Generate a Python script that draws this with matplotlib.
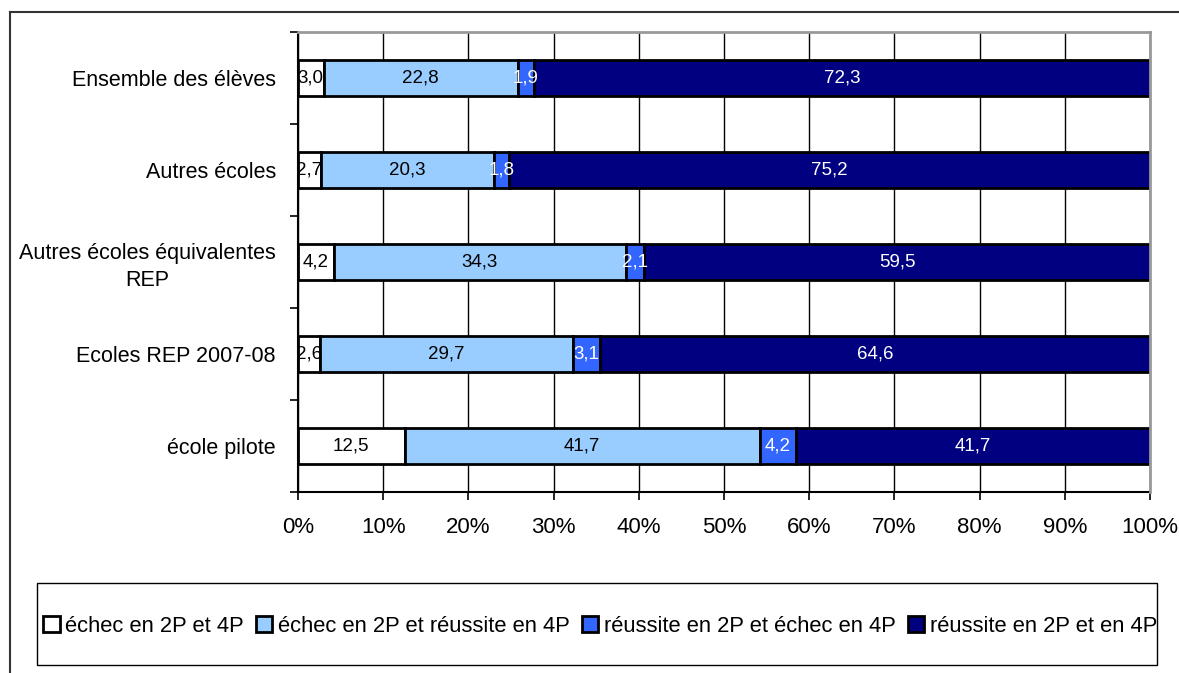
import matplotlib
matplotlib.use('Agg')
import matplotlib.pyplot as plt
from matplotlib.patches import Patch
from matplotlib.lines import Line2D
import numpy as np

plt.rcParams['font.family'] = ['Liberation Sans', 'DejaVu Sans']

# donnees
categories = ["Ensemble des élèves", "Autres écoles", "Autres écoles équivalentes\nREP",
              "Ecoles REP 2007-08", "école pilote"]
series_noms = ["échec en 2P et 4P", "échec en 2P et réussite en 4P",
               "réussite en 2P et échec en 4P", "réussite en 2P et en 4P"]
echec_2p_4p = [3.0, 2.7, 4.2, 2.6, 12.5]
echec_2p_reussite_4p = [22.8, 20.3, 34.3, 29.7, 41.7]
reussite_2p_echec_4p = [1.9, 1.8, 2.1, 3.1, 4.2]
reussite_2p_4p = [72.3, 75.2, 59.5, 64.6, 41.7]
xticks_labels = ["0%", "10%", "20%", "30%", "40%", "50%", "60%", "70%", "80%", "90%", "100%"]

couleurs = ['#FFFFFF', '#99CCFF', '#3366FF', '#000080']
couleurs_txt = ['black', 'black', 'white', 'white']

fig = plt.figure(figsize=(11.79, 6.73), dpi=100)
ax = fig.add_axes([298/1179, 1 - 492/673, (1150-298)/1179, (492-32)/673])

y = np.arange(len(categories))
gauche = np.zeros(len(categories))
for vals, nom, c, ct in zip([echec_2p_4p, echec_2p_reussite_4p, reussite_2p_echec_4p, reussite_2p_4p],
                             series_noms, couleurs, couleurs_txt):
    vals = np.array(vals)
    bars = ax.barh(y, vals, left=gauche, height=0.39, color=c, edgecolor='black',
                   linewidth=2, label=nom, zorder=3)
    for b, v in zip(bars, vals):
        ax.text(b.get_x() + b.get_width() / 2, b.get_y() + b.get_height() / 2,
                f"{v:.1f}".replace('.', ','), ha='center', va='center',
                color=ct, fontsize=13.5, zorder=4)
    gauche += vals

ax.set_xlim(0, 100)
ax.set_ylim(4.5, -0.5)
ax.set_xticks(np.arange(0, 101, 10))
ax.set_xticklabels(xticks_labels, fontsize=16)
ax.set_yticks(y)
ax.set_yticklabels(categories, fontsize=15.5, multialignment='center', linespacing=1.35)
ax.set_yticks(np.arange(-0.5, 4.6, 1), minor=True)
ax.tick_params(axis='y', which='major', length=0, pad=16)
ax.tick_params(axis='y', which='minor', length=6, width=1.2, color='black')
ax.tick_params(axis='x', length=6, width=1.2, pad=12)
ax.grid(axis='x', color='black', linewidth=1, zorder=0)
for s in ['left', 'bottom']:
    ax.spines[s].set_color('black')
    ax.spines[s].set_linewidth(1.5)
for s in ['top', 'right']:
    ax.spines[s].set_color('#999999')
    ax.spines[s].set_linewidth(2)
    ax.spines[s].set_zorder(5)

# cadre exterieur
fig.add_artist(Line2D([10/1179, 1], [1 - 12/673, 1 - 12/673], color='#333333', lw=1.5,
                      transform=fig.transFigure))
fig.add_artist(Line2D([10/1179, 10/1179], [0, 1 - 12/673], color='#333333', lw=1.5,
                      transform=fig.transFigure))

# legende
fig.add_artist(plt.Rectangle((37/1179, 1 - 665/673), (1157-37)/1179, (665-583)/673,
                             transform=fig.transFigure, fill=False, edgecolor='black', lw=1))
handles = [Patch(facecolor=c, edgecolor='black', linewidth=2) for c in couleurs]
leg = fig.legend(handles, series_noms, loc='center', ncol=4, fontsize=15.8,
                 bbox_to_anchor=(600/1179, 1 - 626/673),
                 frameon=False, handlelength=0.75, handleheight=0.75,
                 handletextpad=0.25, columnspacing=0.55, borderaxespad=0, borderpad=0)

plt.savefig('out.png', dpi=100)
plt.close()
